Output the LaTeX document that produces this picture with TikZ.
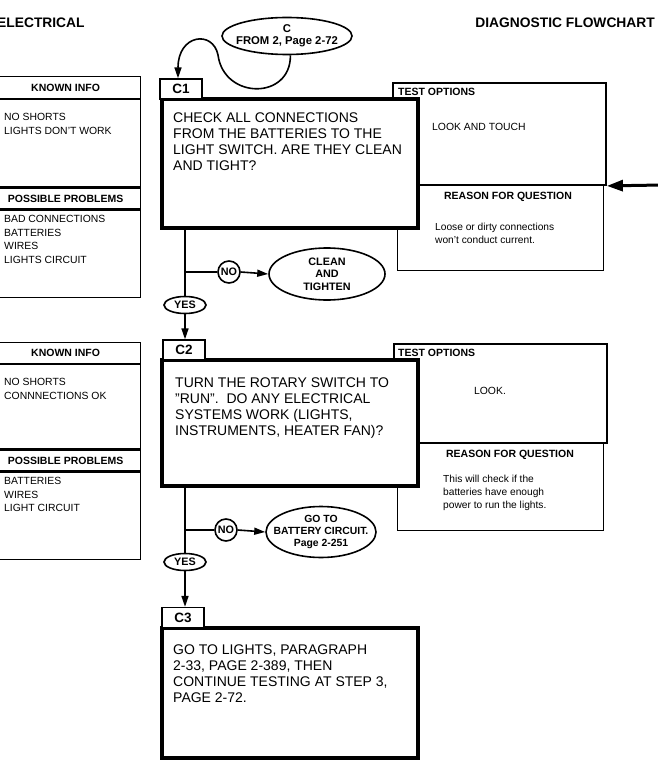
\documentclass[tikz,border=0pt]{standalone}
\usepackage{fontspec}
\setmainfont{Liberation Sans}
\usetikzlibrary{shapes.geometric, arrows.meta, positioning}

\begin{document}
\begin{tikzpicture}[x=1pt, y=-1pt,
  mainbox/.style={draw, line width=3.6pt, fill=white, inner sep=0pt},
  qtext/.style={font=\fontsize{14}{16}\selectfont, align=left, anchor=north west, inner sep=0pt},
  tabbox/.style={draw, line width=1.3pt, fill=white, minimum width=42pt, minimum height=20pt, inner sep=0pt, font=\bfseries\fontsize{13.5}{13.5}\selectfont},
  infobox/.style={draw, line width=1.2pt, inner sep=0pt, minimum width=150pt, anchor=north west},
  optbox/.style={draw, line width=1.8pt, inner sep=0pt},
  whybox/.style={draw, line width=1pt, inner sep=0pt},
  hdr/.style={font=\bfseries\fontsize{10.5}{12}\selectfont},
  info/.style={font=\fontsize{10.4}{13.6}\selectfont, align=left, anchor=north west, inner sep=0pt},
  why/.style={font=\fontsize{10.2}{13}\selectfont, align=left, anchor=north west, inner sep=0pt},
  bubble/.style={draw, ellipse, line width=1.6pt, fill=white, inner sep=0pt},
  btext/.style={inner sep=0pt, align=center, font=\bfseries\fontsize{10.8}{12.5}\selectfont},
  flow/.style={line width=1.6pt},
  arr/.style={line width=1.6pt, -{Triangle[length=11pt, width=7pt]}},
  bigarr/.style={line width=3pt, -{Triangle[length=16pt, width=11pt]}}
]
  \useasboundingbox (0,0) rectangle (657,770);

  % page headings
  \node[anchor=west, inner sep=0pt, font=\bfseries\fontsize{13.8}{15}\selectfont] (title) at (-3,23) {ELECTRICAL};
  \node[anchor=east, inner sep=0pt, font=\bfseries\fontsize{13.8}{15}\selectfont] (chart) at (655,23) {DIAGNOSTIC FLOWCHART};

  % step C1
  \node[infobox, hdr, minimum height=22pt] (kh1) at (-10,76) {KNOWN INFO};
  \node[infobox, minimum height=87pt] (kb1) at (kh1.south west) {};
  \node[info] (ki1) at (4,113) {NO SHORTS\\LIGHTS DON'T WORK};
  \node[infobox, hdr, minimum height=21pt] (ph1) at (kb1.south west) {POSSIBLE PROBLEMS};
  \node[infobox, minimum height=87pt] (pb1) at (ph1.south west) {};
  \node[info] (pi1) at (4,215) {BAD CONNECTIONS\\BATTERIES\\WIRES\\LIGHTS CIRCUIT};

  \node[whybox, minimum width=206pt, minimum height=85pt] (rq1) at (500,227.5) {};
  \node[optbox, minimum width=213pt, minimum height=102pt] (to1) at (499.5,134) {};
  \node[hdr, anchor=west, inner sep=0pt] (toh1) at (398,92) {TEST OPTIONS};
  \node[info] (toi1) at (432,123) {LOOK AND TOUCH};
  \node[hdr, inner sep=0pt] (rqh1) at (508,197) {REASON FOR QUESTION};
  \node[why] (rqi1) at (435,223) {Loose or dirty connections\\won't conduct current.};

  \node[mainbox, minimum width=256pt, minimum height=129pt] (q1) at (290,163.5) {};
  \node[qtext] (q1t) at (173,113) {CHECK ALL CONNECTIONS\\FROM THE BATTERIES TO THE\\LIGHT SWITCH. ARE THEY CLEAN\\AND TIGHT?};
  \node[tabbox] (c1) at (181,89) {C1};

  \node[bubble, minimum width=130pt, minimum height=37pt] (fromc) at (287,36) {};
  \node[btext, font=\bfseries\fontsize{11.3}{12.5}\selectfont] (fromct) at (fromc) {C\\FROM 2, Page 2-72};
  \draw[arr] (fromc.-80) .. controls (291,100) and (224,100) .. (218,55)
    .. controls (213,30) and (178,34) .. (c1.north -| 178,0);

  \node[bubble, minimum width=42pt, minimum height=17pt] (yes1) at (185,305) {};
  \node[btext] (yes1t) at (yes1) {YES};
  \node[bubble, circle, minimum size=22pt] (no1) at (229,272) {};
  \node[btext] (no1t) at (no1) {NO};
  \node[bubble, minimum width=116pt, minimum height=52pt] (fix1) at (327,274) {};
  \node[btext] (fix1t) at (fix1) {CLEAN\\AND\\TIGHTEN};
  \draw[flow] (yes1 |- q1.south) -- (yes1.north);
  \draw[flow] (no1 -| yes1) -- (no1.west);
  \draw[arr] (no1.east) -- (fix1.west);

  % step C2
  \node[infobox, hdr, minimum height=21pt] (kh2) at (-10,342) {KNOWN INFO};
  \node[infobox, minimum height=84pt] (kb2) at (kh2.south west) {};
  \node[info] (ki2) at (4,378) {NO SHORTS\\CONNNECTIONS OK};
  \node[infobox, hdr, minimum height=21pt] (ph2) at (kb2.south west) {POSSIBLE PROBLEMS};
  \node[infobox, minimum height=87pt] (pb2) at (ph2.south west) {};
  \node[info] (pi2) at (4,477) {BATTERIES\\WIRES\\LIGHT CIRCUIT};

  \node[whybox, minimum width=206pt, minimum height=87pt] (rq2) at (500,486.5) {};
  \node[optbox, minimum width=213pt, minimum height=99pt] (to2) at (500.5,393.5) {};
  \node[hdr, anchor=west, inner sep=0pt] (toh2) at (398,353) {TEST OPTIONS};
  \node[info, anchor=center] (toi2) at (490,391) {LOOK.};
  \node[hdr, inner sep=0pt] (rqh2) at (510,455) {REASON FOR QUESTION};
  \node[why] (rqi2) at (443,475) {This will check if the\\batteries have enough\\power to run the lights.};

  \node[mainbox, minimum width=256pt, minimum height=126pt] (q2) at (290,423) {};
  \node[qtext] (q2t) at (175,378) {TURN THE ROTARY SWITCH TO\\"RUN".\ \ DO ANY ELECTRICAL\\SYSTEMS WORK (LIGHTS,\\INSTRUMENTS, HEATER FAN)?};
  \node[tabbox] (c2) at (184,350) {C2};
  \draw[arr] (yes1.south) -- (yes1 |- c2.north);

  \node[bubble, minimum width=42pt, minimum height=17pt] (yes2) at (185,562) {};
  \node[btext] (yes2t) at (yes2) {YES};
  \node[bubble, circle, minimum size=22pt] (no2) at (226,530) {};
  \node[btext] (no2t) at (no2) {NO};
  \node[bubble, minimum width=110pt, minimum height=51pt] (fix2) at (321,532) {};
  \node[btext, font=\bfseries\fontsize{10.4}{12.2}\selectfont] (fix2t) at (fix2) {GO TO\\BATTERY CIRCUIT.\\Page 2-251};
  \draw[flow] (yes2 |- q2.south) -- (yes2.north);
  \draw[flow] (no2 -| yes2) -- (no2.west);
  \draw[arr] (no2.east) -- (fix2.west);

  % step C3
  \node[mainbox, minimum width=256pt, minimum height=130pt] (q3) at (290,693) {};
  \node[qtext] (q3t) at (173,645) {GO TO LIGHTS, PARAGRAPH\\2-33, PAGE 2-389, THEN\\CONTINUE TESTING AT STEP 3,\\PAGE 2-72.};
  \node[tabbox] (c3) at (183,617.5) {C3};
  \draw[arr] (yes2.south) -- (yes2 |- c3.north);

  % entry from the right
  \coordinate (edge) at (662,185);
  \draw[bigarr] (edge) -- (to1.south east);
\end{tikzpicture}
\end{document}
